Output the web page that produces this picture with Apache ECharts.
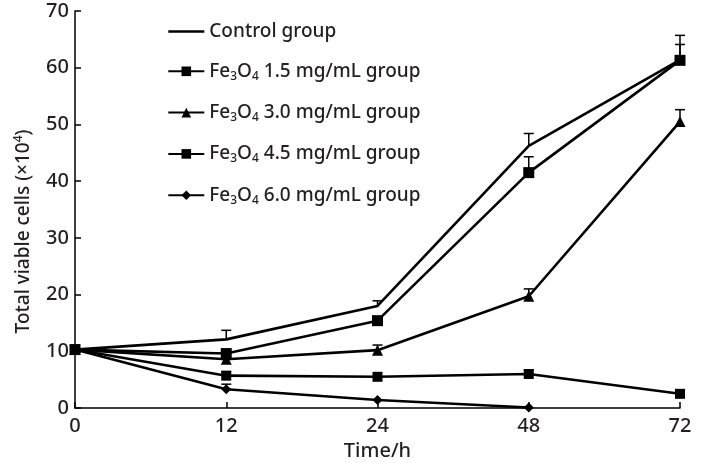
<!DOCTYPE html>
<html>
<head>
<meta charset="utf-8">
<title>Total viable cells</title>
<script src="https://cdn.jsdelivr.net/npm/echarts@6/dist/echarts.min.js"></script>
<style>
  html, body { margin: 0; padding: 0; background: #fff; }
  #chart { width: 706px; height: 463px; }
</style>
</head>
<body>
<div id="chart"></div>
<script>
// time points (h)
var hours = ['0', '12', '24', '48', '72']
var yTicks = [0, 10, 20, 30, 40, 50, 60, 70]

var seriesNames = [
  'Control group',
  'Fe3O4 1.5 mg/mL group',
  'Fe3O4 3.0 mg/mL group',
  'Fe3O4 4.5 mg/mL group',
  'Fe3O4 6.0 mg/mL group'
]

// mean values (x10^4 cells)
var controlVals = [10.3, 12.1, 18.0, 46.2, 61.4]
var fe15Vals = [10.3, 9.6, 15.4, 41.5, 61.3]
var fe30Vals = [10.3, 8.6, 10.2, 19.7, 50.5]
var fe45Vals = [10.3, 5.7, 5.5, 6.0, 2.5]
var fe60Vals = [10.3, 3.3, 1.4, 0.1, null]

// upper error bars
var controlErr = [0, 1.6, 0.9, 2.2, 4.3]
var fe15Err = [0, 0, 0, 2.8, 2.8]
var fe30Err = [0, 0, 0.9, 1.3, 2.1]
var fe45Err = [0, 0.7, 0, 0.7, 0.6]
var fe60Err = [0, 0.9, 0, 0, 0]

var symbols = ['none', 'rect', 'triangle', 'rect', 'diamond']
var symbolSizes = [0, 11, 11, 10, 10]
var allVals = [controlVals, fe15Vals, fe30Vals, fe45Vals, fe60Vals]
var allErr = [controlErr, fe15Err, fe30Err, fe45Err, fe60Err]

var ink = '#231f20'
var font = 'Noto Sans'

var chart = echarts.init(document.getElementById('chart'))

function legendLabel (name) {
  if (name.indexOf('Fe3O4') !== 0) return '{t|' + name + '}'
  return '{t|Fe}{s|3}{t|O}{s|4}{t| ' + name.slice(6) + '}'
}

function errorBars (vals, errs) {
  var out = []
  for (var i = 0; i < vals.length; i++) {
    if (vals[i] != null && errs[i] > 0) out.push([i, vals[i], errs[i]])
  }
  return out
}

function renderError (params, api) {
  var x = api.value(0)
  var v = api.value(1)
  var e = api.value(2)
  var p0 = api.coord([x, v])
  var p1 = api.coord([x, v + e])
  var capW = 5
  var style = { stroke: '#000', lineWidth: 1.5 }
  return {
    type: 'group',
    children: [
      { type: 'line', shape: { x1: p0[0], y1: p0[1], x2: p1[0], y2: p1[1] }, style: style },
      { type: 'line', shape: { x1: p1[0] - capW, y1: p1[1], x2: p1[0] + capW, y2: p1[1] }, style: style }
    ]
  }
}

var series = []
seriesNames.forEach(function (name, k) {
  series.push({
    name: name,
    type: 'line',
    data: allVals[k],
    symbol: symbols[k],
    symbolSize: symbolSizes[k],
    showSymbol: symbols[k] !== 'none',
    z: 3,
    lineStyle: { color: '#000', width: 2.6 },
    itemStyle: { color: '#000' },
    emphasis: { disabled: true }
  })
})
seriesNames.forEach(function (name, k) {
  series.push({
    type: 'custom',
    renderItem: renderError,
    data: errorBars(allVals[k], allErr[k]),
    encode: { x: 0, y: 1 },
    z: 2,
    silent: true
  })
})

var legendData = seriesNames.map(function (name, k) {
  // control group has no marker: hide the legend symbol, keep the line
  if (symbols[k] === 'none') {
    return {
      name: name,
      itemStyle: { color: 'rgba(0,0,0,0)', borderWidth: 0 },
      lineStyle: { color: '#000', width: 2.6 }
    }
  }
  return { name: name }
})

var option = {
  animation: false,
  backgroundColor: '#fff',
  textStyle: { fontFamily: font, color: ink },
  grid: { left: 75, right: 26, top: 11, bottom: 55, outerBoundsMode: 'none' },
  legend: {
    orient: 'vertical',
    left: 162,
    top: 17,
    itemWidth: 36,
    itemHeight: 12,
    itemGap: 20.8,
    data: legendData,
    formatter: legendLabel,
    textStyle: {
      rich: {
        t: { fontSize: 19, fontWeight: 500, color: ink, fontFamily: font, lineHeight: 22 },
        s: { fontSize: 12, fontWeight: 500, color: ink, fontFamily: font, verticalAlign: 'bottom', lineHeight: 12 }
      }
    }
  },
  xAxis: {
    type: 'category',
    data: hours,
    boundaryGap: false,
    name: 'Time/h',
    nameLocation: 'middle',
    nameGap: 33,
    nameTextStyle: { fontSize: 20, fontWeight: 500, color: ink, fontFamily: font },
    axisLine: { lineStyle: { color: '#000', width: 1.5 } },
    axisTick: { inside: true, length: 6, lineStyle: { color: '#000', width: 1.5 } },
    axisLabel: { fontSize: 20, fontWeight: 500, color: ink, margin: 8, fontFamily: font },
    splitLine: { show: false }
  },
  yAxis: {
    type: 'value',
    min: yTicks[0],
    max: yTicks[yTicks.length - 1],
    interval: 10,
    name: '{a|Total viable cells (×10}{p|4}{a|)}',
    nameLocation: 'middle',
    nameGap: 40,
    nameTextStyle: {
      padding: [0, 44, 0, 0],
      rich: {
        a: { fontSize: 19, fontWeight: 500, color: ink, fontFamily: font, lineHeight: 22 },
        p: { fontSize: 12, fontWeight: 500, color: ink, fontFamily: font, verticalAlign: 'top', lineHeight: 12 }
      }
    },
    axisLine: { show: true, lineStyle: { color: '#000', width: 1.5 } },
    axisTick: { show: true, inside: true, length: 6, lineStyle: { color: '#000', width: 1.5 } },
    axisLabel: { fontSize: 20, fontWeight: 500, color: ink, margin: 6, fontFamily: font },
    splitLine: { show: false }
  },
  series: series
}

chart.setOption(option)
</script>
</body>
</html>
